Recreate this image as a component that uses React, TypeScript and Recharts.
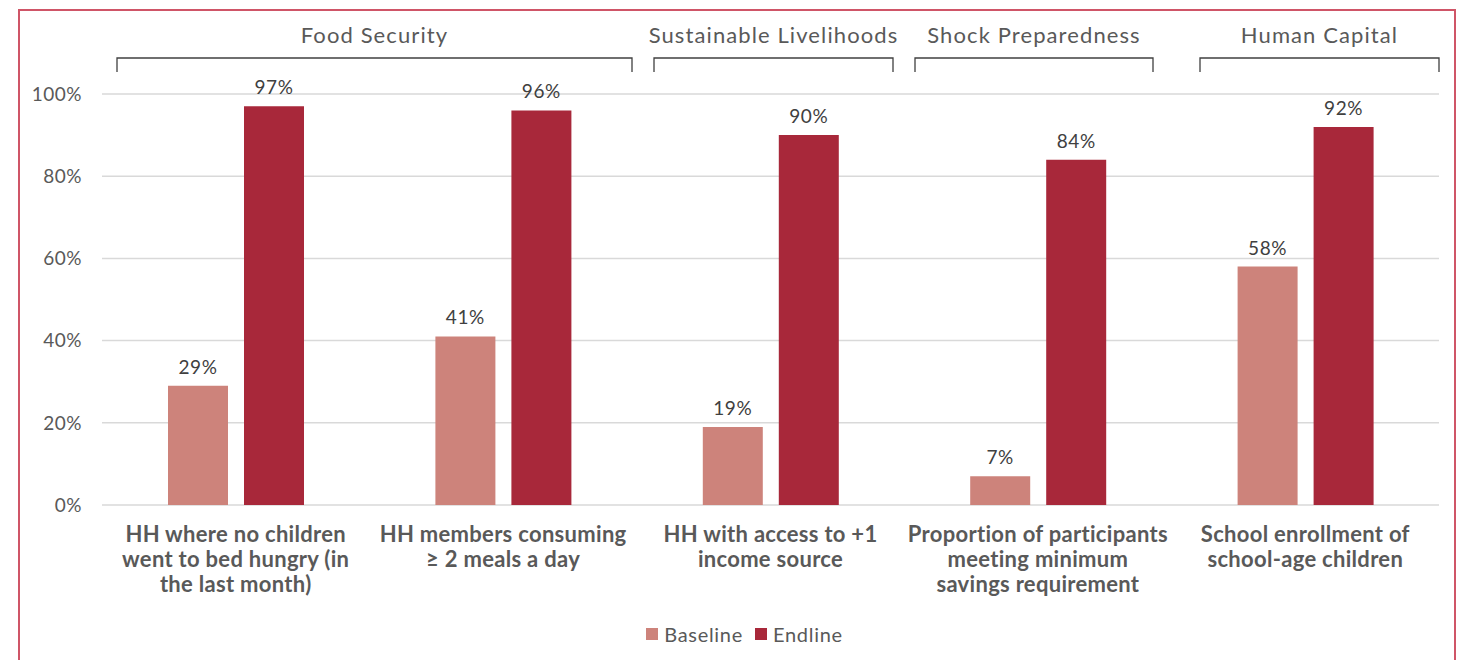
import React from "react";
import { Bar, BarChart, CartesianGrid, LabelList, Legend, XAxis, YAxis } from "recharts";

const categories = [
  "HH where no children\nwent to bed hungry (in\nthe last month)",
  "HH members consuming\n\u2265 2 meals a day",
  "HH with access to +1\nincome source",
  "Proportion of participants\nmeeting minimum\nsavings requirement",
  "School enrollment of\nschool-age children",
];
const baseline = [29, 41, 19, 7, 58];
const endline = [97, 96, 90, 84, 92];
const yTicks = [0, 20, 40, 60, 80, 100];

const groupTitles = ["Food Security", "Sustainable Livelihoods", "Shock Preparedness", "Human Capital"];
// bracket spans (px) above the plot
const groupSpans: Array<[number, number]> = [
  [117, 632],
  [654, 893],
  [915, 1153],
  [1200, 1439],
];

const BASE_COLOR = "#cd837b";
const END_COLOR = "#a8283a";
const TEXT = "#595959";
const FONT = "Lato, 'Open Sans', sans-serif";

const data = categories.map((c, i) => ({ name: c, Baseline: baseline[i], Endline: endline[i] }));

function CategoryTick(props: any) {
  const { x, y, payload } = props;
  const lines = String(payload.value).split("\n");
  return (
    <text x={x} y={y} textAnchor="middle" fill={TEXT} fontSize={22} fontWeight={700} fontFamily={FONT} letterSpacing={0.3}>
      {lines.map((l, i) => (
        <tspan key={i} x={x} dy={i === 0 ? 29 : 25}>
          {l}
        </tspan>
      ))}
    </text>
  );
}

function LegendContent(props: any) {
  const items = props.payload || [];
  return (
    <div style={{ display: "flex", justifyContent: "center", alignItems: "center", gap: 12 }}>
      {items.map((it: any) => (
        <div key={it.value} style={{ display: "flex", alignItems: "center", gap: 6 }}>
          <span style={{ width: 12, height: 12, background: it.color, display: "inline-block" }} />
          <span style={{ color: TEXT }}>{it.value}</span>
        </div>
      ))}
    </div>
  );
}

export default function App() {
  return (
    <div style={{ position: "absolute", left: 0, top: 0, width: 1463, height: 660, background: "#fff", overflow: "hidden" }}>
      <div
        style={{
          position: "absolute",
          left: 18,
          top: 9,
          width: 1438,
          height: 700,
          border: "2px solid #cf5567",
          boxSizing: "border-box",
        }}
      />
      <svg width={1463} height={100} style={{ position: "absolute", left: 0, top: 0 }}>
        {groupTitles.map((t, i) => {
          const [a, b] = groupSpans[i];
          return (
            <g key={t}>
              <text x={(a + b) / 2} y={43} textAnchor="middle" fill={TEXT} fontSize={22} fontFamily={FONT} letterSpacing={1.1}>
                {t}
              </text>
              <path d={`M${a},72 V58 H${b} V72`} fill="none" stroke="#404040" strokeWidth={1.3} />
            </g>
          );
        })}
      </svg>
      <div style={{ position: "absolute", left: 0, top: 0 }}>
        <BarChart
          width={1463}
          height={660}
          data={data}
          margin={{ top: 94, right: 24, left: 22, bottom: 18 }}
          barSize={60}
          barGap={16}
        >
          <CartesianGrid vertical={false} stroke="#d9d9d9" strokeWidth={1.5} />
          <XAxis dataKey="name" axisLine={false} tickLine={false} interval={0} height={115} tick={<CategoryTick />} />
          <YAxis
            width={80}
            domain={[0, 100]}
            ticks={yTicks}
            axisLine={false}
            tickLine={false}
            tickSize={0}
            tickMargin={20}
            tickFormatter={(v) => `${v}%`}
            tick={{ fill: TEXT, fontSize: 19, fontFamily: FONT, letterSpacing: 0.5 }}
          />
          <Legend
            verticalAlign="bottom"
            align="center"
            height={22}
            content={<LegendContent />}
            wrapperStyle={{ fontFamily: FONT, fontSize: 20, letterSpacing: 0.7, left: 0, width: 1463, paddingLeft: 26, boxSizing: "border-box", marginBottom: -2 }}
          />
          <Bar dataKey="Baseline" fill={BASE_COLOR} isAnimationActive={false}>
            <LabelList dataKey="Baseline" position="top" offset={12} formatter={(v: any) => `${v}%`} fill="#404040" fontSize={19} fontFamily={FONT} letterSpacing={0.6} />
          </Bar>
          <Bar dataKey="Endline" fill={END_COLOR} isAnimationActive={false}>
            <LabelList dataKey="Endline" position="top" offset={12} formatter={(v: any) => `${v}%`} fill="#404040" fontSize={19} fontFamily={FONT} letterSpacing={0.6} />
          </Bar>
        </BarChart>
      </div>
    </div>
  );
}
